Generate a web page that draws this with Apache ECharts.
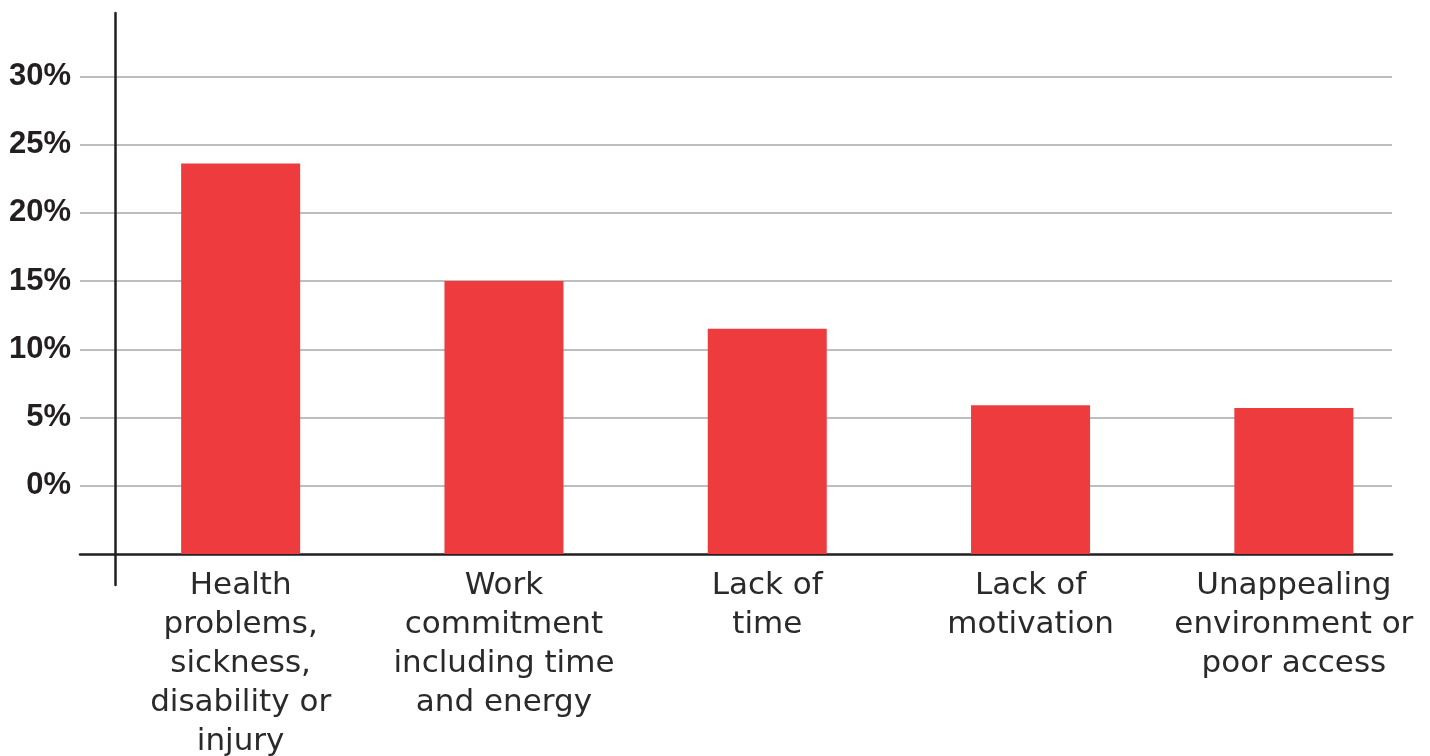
<!DOCTYPE html>
<html>
<head>
<meta charset="utf-8">
<script src="https://cdn.jsdelivr.net/npm/echarts@6/dist/echarts.min.js"></script>
<style>
html,body{margin:0;padding:0;background:#fff;}
#chart{width:1430px;height:756px;}
</style>
</head>
<body>
<div id="chart"></div>
<script>
const categories = [
  "Health\nproblems,\nsickness,\ndisability or\ninjury",
  "Work\ncommitment\nincluding time\nand energy",
  "Lack of\ntime",
  "Lack of\nmotivation",
  "Unappealing\nenvironment or\npoor access"
];
const values = [23.6, 15.0, 11.5, 5.9, 5.7];
const yTicks = [0, 5, 10, 15, 20, 25, 30];

const Y_MIN = -5, Y_MAX = 35, Y_STEP = 5;
const barColor = '#ee3c3e';
const inkColor = '#231f20';

const chart = echarts.init(document.getElementById('chart'), null, {renderer: 'canvas'});

const option = {
  backgroundColor: '#ffffff',
  animation: false,
  grid: [
    {left: 80, right: 38, top: 8, bottom: 202, containLabel: false, outerBoundsMode: 'none'},
    {left: 115, right: 38, top: 13, bottom: 171, containLabel: false, outerBoundsMode: 'none'},
    {left: 109, right: 4.5, top: 8, bottom: 202, containLabel: false, outerBoundsMode: 'none'}
  ],
  xAxis: [
    {
      gridIndex: 0, type: 'category', data: categories,
      axisLine: {show: true, onZero: false, lineStyle: {color: inkColor, width: 2.5}},
      axisTick: {show: false}, axisLabel: {show: false}, splitLine: {show: false}
    },
    {gridIndex: 1, type: 'value', show: false},
    {
      gridIndex: 2, type: 'category', data: categories,
      axisLine: {show: false}, axisTick: {show: false},
      axisLabel: {
        show: true, interval: 0, margin: 12,
        fontFamily: 'DejaVu Sans', fontSize: 31, lineHeight: 39,
        color: '#2a2a2a', align: 'center', verticalAlign: 'top'
      },
      splitLine: {show: false}
    }
  ],
  yAxis: [
    {
      gridIndex: 0, type: 'value', min: Y_MIN, max: Y_MAX, interval: Y_STEP,
      axisLine: {show: false}, axisTick: {show: false},
      axisLabel: {
        show: true, margin: 9, showMinLabel: false, showMaxLabel: false,
        fontFamily: 'Liberation Sans', fontWeight: 'bold', fontSize: 31, color: inkColor,
        formatter: function (v) { return yTicks.indexOf(v) >= 0 ? v + '%' : ''; }
      },
      splitLine: {show: true, showMinLine: false, showMaxLine: false, lineStyle: {color: '#a9a9a9', width: 1.5}}
    },
    {
      gridIndex: 1, type: 'value', min: 0, max: 1,
      axisLine: {show: true, lineStyle: {color: inkColor, width: 2.5}},
      axisTick: {show: false}, axisLabel: {show: false}, splitLine: {show: false}
    },
    {
      gridIndex: 2, type: 'value', min: Y_MIN, max: Y_MAX, interval: Y_STEP, show: false,
      splitLine: {show: false}
    }
  ],
  series: [
    {
      type: 'custom',
      xAxisIndex: 2, yAxisIndex: 2,
      z: 5,
      encode: {x: 0, y: 1},
      data: values.map(function (v, i) { return [i, v]; }),
      renderItem: function (params, api) {
        const i = api.value(0);
        const v = api.value(1);
        const top = api.coord([i, v]);
        const base = api.coord([i, Y_MIN]);
        const w = api.size([1, 0])[0] * 0.452;
        return {
          type: 'rect',
          shape: {x: top[0] - w / 2, y: top[1], width: w, height: base[1] - top[1]},
          style: {fill: barColor}
        };
      }
    }
  ]
};
chart.setOption(option);
</script>
</body>
</html>
